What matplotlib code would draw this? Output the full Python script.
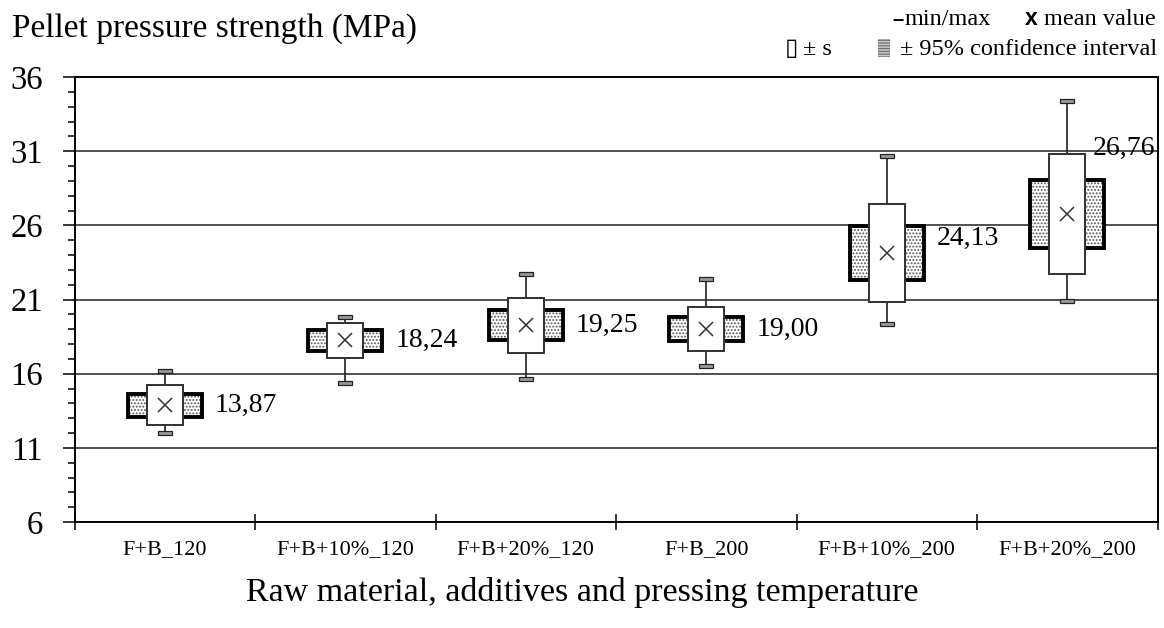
import matplotlib
matplotlib.use('Agg')
import matplotlib.pyplot as plt
from matplotlib.patches import Rectangle
from matplotlib.ticker import MultipleLocator, FixedLocator, NullFormatter

# ---------------- data ----------------
categories = ['F+B_120', 'F+B+10%_120', 'F+B+20%_120', 'F+B_200', 'F+B+10%_200', 'F+B+20%_200']
means = [13.87, 18.24, 19.25, 19.00, 24.13, 26.76]
sds = [1.35, 1.20, 1.86, 1.48, 3.30, 4.07]
ci95 = [0.77, 0.68, 1.01, 0.80, 1.83, 2.28]
mins = [12.00, 15.39, 15.64, 16.51, 19.32, 20.92]
maxs = [16.18, 19.84, 22.70, 22.36, 30.69, 34.36]
mean_labels = ['13,87', '18,24', '19,25', '19,00', '24,13', '26,76']
y_ticks = [6, 11, 16, 21, 26, 31, 36]

# label layout offsets (x in category units, y in data units)
label_dx = [0.277, 0.277, 0.277, 0.277, 0.277, 0.139]
label_dy = [0.0, 0.0, 0.0, 0.0, 1.0, 4.45]

SERIF = ['Liberation Serif', 'DejaVu Serif']
plt.rcParams['font.family'] = SERIF
plt.rcParams['hatch.linewidth'] = 0.9

W, H = 1164, 628
fig = plt.figure(figsize=(W / 100, H / 100), dpi=100)
ax = fig.add_axes([74.5 / W, 1 - 522 / H, (1157.5 - 74.5) / W, (522 - 77) / H])

ax.set_xlim(0.5, len(categories) + 0.5)
ax.set_ylim(6, 36)

# grid
for yv in y_ticks[1:-1]:
    ax.axhline(yv, color='#505050', lw=1.4, zorder=1)

ci_half_w = 0.205
sd_half_w = 0.10
cap_w = 0.038
cap_h = 0.13
for i, (m, s, c, lo, hi) in enumerate(zip(means, sds, ci95, mins, maxs)):
    x = i + 1
    # whiskers
    ax.plot([x, x], [m + s, hi], color='#303030', lw=1.3, zorder=2)
    ax.plot([x, x], [lo, m - s], color='#303030', lw=1.3, zorder=2)
    for v in (lo, hi):
        ax.add_patch(Rectangle((x - cap_w, v - cap_h), 2 * cap_w, 2 * cap_h,
                               facecolor='#9a9a9a', edgecolor='#222222', lw=0.9, zorder=3))
    # confidence interval box (hatched)
    ax.add_patch(Rectangle((x - ci_half_w, m - c), 2 * ci_half_w, 2 * c,
                           facecolor='white', edgecolor='#555555', hatch='.....', lw=0, zorder=3))
    ax.add_patch(Rectangle((x - ci_half_w, m - c), 2 * ci_half_w, 2 * c,
                           facecolor='none', edgecolor='black', lw=2.8, zorder=4))
    # +- s box
    ax.add_patch(Rectangle((x - sd_half_w, m - s), 2 * sd_half_w, 2 * s,
                           facecolor='white', edgecolor='#303030', lw=1.4, zorder=5))
    # mean
    ax.plot([x], [m], marker='x', color='#333333', markersize=10, mew=1.1, zorder=6, ls='none')
    ax.text(x + label_dx[i], m + label_dy[i], mean_labels[i], fontsize=20,
            ha='left', va='center', color='black', zorder=7)

# spines
for sp in ax.spines.values():
    sp.set_color('black')
    sp.set_linewidth(1.4)
    sp.set_zorder(8)

# y axis ticks
ax.yaxis.set_major_locator(FixedLocator(y_ticks))
ax.yaxis.set_minor_locator(MultipleLocator(1))
ax.tick_params(axis='y', which='major', direction='out', length=8.6, width=1.1,
               labelsize=23.5, pad=14, color='black')
ax.tick_params(axis='y', which='minor', direction='out', length=5, width=1.1, color='black')

# x axis ticks: boundaries as marks, labels at centers
ax.xaxis.set_major_locator(FixedLocator([i + 0.5 for i in range(len(categories) + 1)]))
ax.xaxis.set_major_formatter(NullFormatter())
ax.set_xticks(list(range(1, len(categories) + 1)), categories, minor=True)
ax.tick_params(axis='x', which='major', direction='inout', length=11, width=1.1, color='black')
ax.tick_params(axis='x', which='minor', length=0, labelsize=16, pad=13)

# titles
fig.text(12 / W, 1 - 37 / H, 'Pellet pressure strength (MPa)', fontsize=24,
         ha='left', va='baseline')
fig.text(582 / W, 1 - 592 / H, 'Raw material, additives and pressing temperature',
         fontsize=24.5, ha='center', va='center')

# legend (top right)
fs_leg = 17.5
fig.text(904 / W, 1 - 25 / H, '\u2013', fontsize=fs_leg - 3, fontweight='bold',
         ha='right', va='baseline', family=['Liberation Sans'])
fig.text(905 / W, 1 - 25 / H, 'min/max', fontsize=fs_leg, ha='left', va='baseline')
fig.text(1038 / W, 1 - 25 / H, 'x', fontsize=fs_leg - 1, fontweight='bold',
         ha='right', va='baseline', family=['Liberation Sans'])
fig.text(1156 / W, 1 - 25 / H, 'mean value', fontsize=fs_leg, ha='right', va='baseline')

fig.text(785 / W, 1 - 55 / H, '\u25af', fontsize=fs_leg, ha='left', va='baseline',
         family=['DejaVu Sans'])
fig.text(803 / W, 1 - 55 / H, '\u00b1 s', fontsize=fs_leg, ha='left', va='baseline')
icon = Rectangle((878 / W, 1 - 57 / H), 12 / W, 18 / H, transform=fig.transFigure,
                 facecolor='#c8c8c8', edgecolor='#707070', hatch='------', lw=0)
fig.patches.append(icon)
fig.text(1157 / W, 1 - 55 / H, '\u00b1 95% confidence interval', fontsize=fs_leg,
         ha='right', va='baseline')

fig.savefig('out.png', dpi=100)
